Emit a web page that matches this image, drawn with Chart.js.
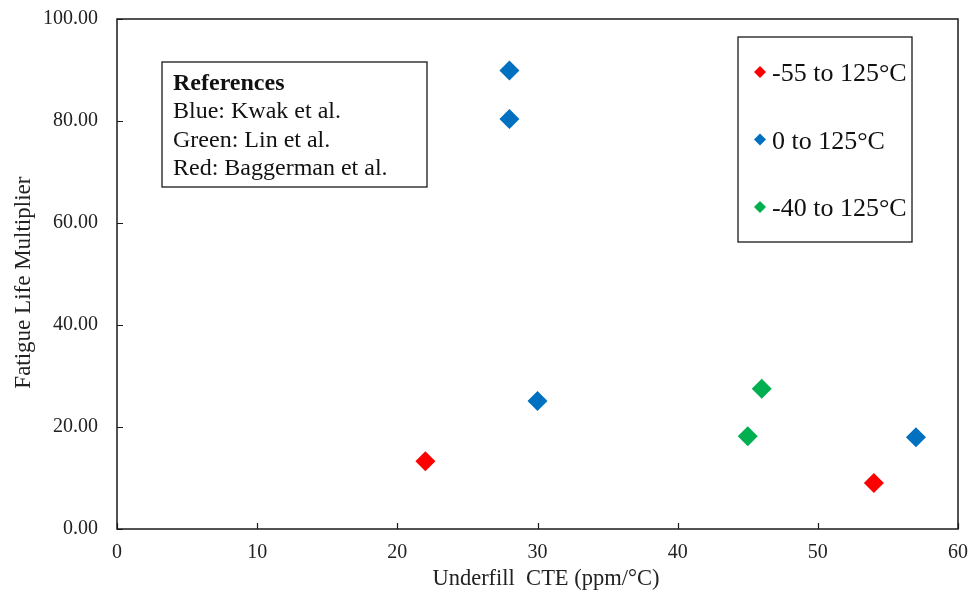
<!DOCTYPE html>
<html>
<head>
<meta charset="utf-8">
<script src="https://cdn.jsdelivr.net/npm/chart.js@4/dist/chart.umd.min.js"></script>
<style>
  html, body { margin: 0; padding: 0; background: #fff; }
  #wrap { width: 972px; height: 601px; }
</style>
</head>
<body>
<div id="wrap"><canvas id="cteChart" width="972" height="601"></canvas></div>
<script>
// cycle ranges and their points (x = underfill CTE, y = fatigue life multiplier)
const seriesLabels = ['-55 to 125°C', '0 to 125°C', '-40 to 125°C'];
const seriesColors = ['#FF0000', '#0070C0', '#00B050'];

const redX = [22, 54];
const redY = [13.3, 9.0];
const blueX = [28, 28, 30, 57];
const blueY = [89.9, 80.4, 25.1, 18.0];
const greenX = [45, 46];
const greenY = [18.2, 27.5];

const xTicks = [0, 10, 20, 30, 40, 50, 60];
const yTicks = [0, 20, 40, 60, 80, 100];

const refTitle = 'References';
const refLines = ['Blue: Kwak et al.', 'Green: Lin et al.', 'Red: Baggerman et al.'];

const serif = '"Liberation Serif", "Times New Roman", serif';

function toPoints(xs, ys) {
  return xs.map((x, i) => ({ x: x, y: ys[i] }));
}

const allX = [redX, blueX, greenX];
const allY = [redY, blueY, greenY];

const datasets = seriesLabels.map((label, i) => ({
  label: label,
  data: toPoints(allX[i], allY[i]),
  backgroundColor: seriesColors[i],
  borderColor: seriesColors[i],
  borderWidth: 0,
  pointStyle: 'rectRot',
  pointRadius: 10,
  pointHoverRadius: 10
}));

// frame, inward ticks, legend box and references box
const decorations = {
  id: 'decorations',
  afterDraw(chart) {
    const c = chart.ctx;
    const area = chart.chartArea;
    const xs = chart.scales.x;
    const ys = chart.scales.y;
    c.save();
    c.strokeStyle = '#1a1a1a';
    c.lineWidth = 1.5;
    c.strokeRect(area.left, area.top, area.right - area.left, area.bottom - area.top);

    c.lineWidth = 1.2;
    c.beginPath();
    xTicks.forEach(v => {
      const px = Math.round(xs.getPixelForValue(v)) + 0.5;
      c.moveTo(px, area.bottom);
      c.lineTo(px, area.bottom - 6);
    });
    yTicks.forEach(v => {
      const py = Math.round(ys.getPixelForValue(v)) + 0.5;
      c.moveTo(area.left, py);
      c.lineTo(area.left + 6, py);
    });
    c.stroke();

    // references box
    c.lineWidth = 1.3;
    c.fillStyle = '#fff';
    c.fillRect(162, 62, 265, 125);
    c.strokeRect(162, 62, 265, 125);
    c.fillStyle = '#111';
    c.textAlign = 'left';
    c.textBaseline = 'alphabetic';
    c.font = 'bold 24px ' + serif;
    c.fillText(refTitle, 173, 90);
    c.font = '24px ' + serif;
    refLines.forEach((t, i) => c.fillText(t, 173, 118 + i * 28.5));

    // legend box
    c.fillStyle = '#fff';
    c.fillRect(738, 37, 174, 205);
    c.strokeRect(738, 37, 174, 205);
    c.font = '26px ' + serif;
    chart.data.datasets.forEach((ds, i) => {
      const cy = 72 + i * 67.5;
      c.fillStyle = ds.backgroundColor;
      c.beginPath();
      c.moveTo(760 - 6, cy);
      c.lineTo(760, cy - 6);
      c.lineTo(760 + 6, cy);
      c.lineTo(760, cy + 6);
      c.closePath();
      c.fill();
      c.fillStyle = '#111';
      c.fillText(ds.label, 772, cy + 9);
    });
    c.restore();
  }
};

const ctx = document.getElementById('cteChart').getContext('2d');
const chart = new Chart(ctx, {
  type: 'scatter',
  data: { datasets: datasets },
  options: {
    responsive: false,
    animation: false,
    layout: { padding: { top: 19, right: 14, left: 0, bottom: 0 } },
    plugins: {
      legend: { display: false },
      tooltip: { enabled: false }
    },
    scales: {
      x: {
        type: 'linear',
        min: 0,
        max: 60,
        afterFit(scale) {
          scale.height = 72;
          scale.paddingLeft = 0;
          scale.paddingRight = 0;
        },
        afterBuildTicks(scale) { scale.ticks = xTicks.map(v => ({ value: v })); },
        grid: { display: false, drawTicks: false },
        border: { display: false },
        ticks: {
          padding: 12,
          color: '#222',
          font: { family: serif, size: 20 }
        },
        title: {
          display: true,
          text: '   Underfill  CTE (ppm/°C)',
          color: '#222',
          font: { family: serif, size: 22.5 },
          padding: { top: 0, bottom: 8 }
        }
      },
      y: {
        type: 'linear',
        min: 0,
        max: 100,
        afterFit(scale) {
          scale.width = 117;
          scale.paddingTop = 0;
          scale.paddingBottom = 0;
        },
        afterBuildTicks(scale) { scale.ticks = yTicks.map(v => ({ value: v })); },
        grid: { display: false, drawTicks: false },
        border: { display: false },
        ticks: {
          padding: 19,
          color: '#222',
          font: { family: serif, size: 20 },
          callback: v => Number(v).toFixed(2)
        },
        title: {
          display: true,
          text: 'Fatigue Life Multiplier   ',
          color: '#222',
          font: { family: serif, size: 23 },
          padding: { top: 10, bottom: 0 }
        }
      }
    }
  },
  plugins: [decorations]
});
</script>
</body>
</html>
